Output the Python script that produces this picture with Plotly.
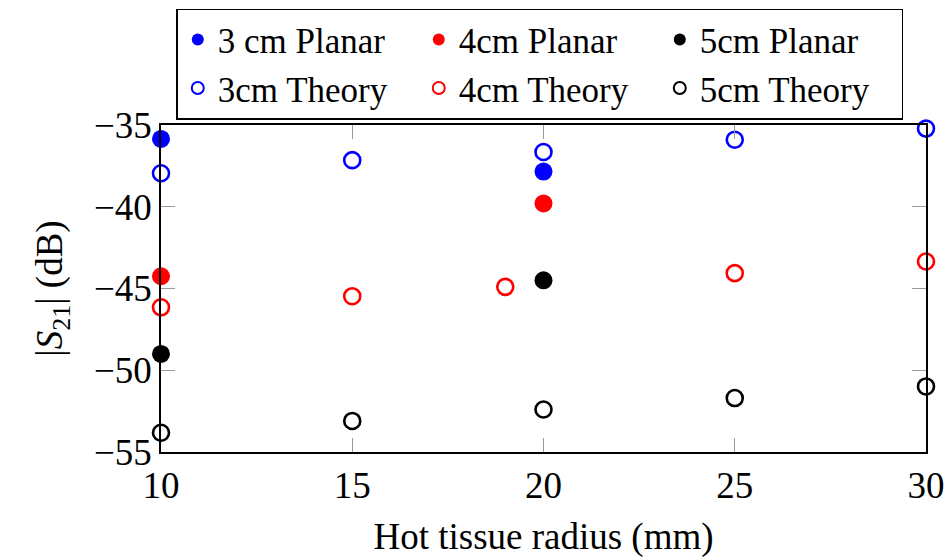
import plotly.graph_objects as go

# Hot tissue radius (mm)
radius_theory = [10, 15, 20, 25, 30]
radius_theory_4cm = [10, 15, 19, 25, 30]
radius_planar = [10, 20]

# |S21| in dB, measured with planar antennas
s21_planar_3cm = [-35.85, -37.85]
s21_planar_4cm = [-44.25, -39.8]
s21_planar_5cm = [-49.0, -44.5]

# |S21| in dB, theoretical predictions
s21_theory_3cm = [-37.95, -37.15, -36.65, -35.9, -35.22]
s21_theory_4cm = [-46.15, -45.47, -44.9, -44.06, -43.35]
s21_theory_5cm = [-53.82, -53.1, -52.4, -51.7, -50.99]

x_ticks = [10, 15, 20, 25, 30]
y_ticks = [-55, -50, -45, -40, -35]

FONT = "Liberation Serif, serif"
BLUE, RED, BLACK = "#0000ff", "#ff0000", "#000000"

fig = go.Figure()

planar = [
    ("3 cm Planar", s21_planar_3cm, BLUE),
    ("4cm Planar", s21_planar_4cm, RED),
    ("5cm Planar", s21_planar_5cm, BLACK),
]
for name, ys, col in planar:
    fig.add_trace(go.Scatter(
        x=radius_planar, y=ys, mode="markers", name=name, cliponaxis=False,
        marker=dict(symbol="circle", size=18, color=col, line=dict(width=0)),
    ))

theory = [
    ("3cm Theory", radius_theory, s21_theory_3cm, BLUE),
    ("4cm Theory", radius_theory_4cm, s21_theory_4cm, RED),
    ("5cm Theory", radius_theory, s21_theory_5cm, BLACK),
]
for name, xs, ys, col in theory:
    fig.add_trace(go.Scatter(
        x=xs, y=ys, mode="markers", name=name, cliponaxis=False,
        marker=dict(symbol="circle-open", size=16, color=col,
                    line=dict(width=2.6, color=col)),
    ))

axis_common = dict(
    showgrid=False, zeroline=False,
    showline=True, linecolor="black", linewidth=1.6, mirror="allticks",
    ticks="inside", ticklen=14, tickwidth=1.4, tickcolor="#9a9a9a",
    tickfont=dict(family=FONT, size=37, color="black"),
    automargin=False,
)

fig.update_xaxes(
    range=[10, 30], tickvals=x_ticks,
    title=dict(text="Hot tissue radius (mm)", standoff=18,
               font=dict(family=FONT, size=37, color="black")),
    **axis_common,
)
fig.update_yaxes(
    range=[-55, -35], tickvals=y_ticks,
    title=dict(text="|<i>S</i><sub>21</sub>| (dB)", standoff=20,
               font=dict(family=FONT, size=37, color="black")),
    **axis_common,
)

fig.update_layout(
    width=951, height=558,
    margin=dict(l=161, r=25, t=125, b=106, autoexpand=False),
    paper_bgcolor="white", plot_bgcolor="white",
    font=dict(family=FONT, size=37, color="black"),
    showlegend=True,
    legend=dict(
        orientation="h", x=0.495, xanchor="center", y=1.356, yanchor="top",
        entrywidth=196, entrywidthmode="pixels", itemsizing="constant",
        bordercolor="black", borderwidth=1.6, bgcolor="white",
        font=dict(family=FONT, size=35, color="black"),
        tracegroupgap=0,
    ),
)

fig.write_html("out.html")
